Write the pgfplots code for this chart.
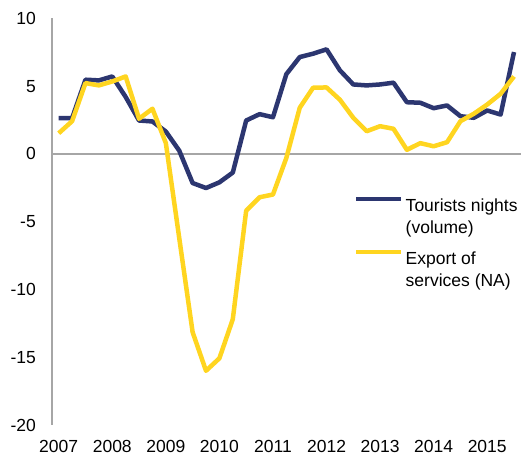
\documentclass[border=0pt]{standalone}
\usepackage{fontspec}
\setmainfont{Liberation Sans}
\usepackage{pgfplots}
\pgfplotsset{compat=1.18}
\definecolor{navyc}{RGB}{44,54,112}
\definecolor{yellowc}{RGB}{255,213,32}
\definecolor{axgray}{RGB}{166,166,166}
\begin{document}
\begin{tikzpicture}[x=1pt,y=1pt,font=\fontsize{17.5}{22}\selectfont]
\useasboundingbox (0,0) rectangle (524,457);
\begin{axis}[
  at={(52pt,32pt)}, anchor=south west,
  scale only axis, width=468.7pt, height=406.7pt,
  xmin=-0.5, xmax=34.5, ymin=-20, ymax=10,
  axis lines*=left,
  x axis line style={draw=none},
  y axis line style={draw=axgray, line width=1.3pt},
  major tick length=0pt,
  xtick={0,4,...,32},
  xticklabels={2007,2008,2009,2010,2011,2012,2013,2014,2015},
  ytick={-20,-15,...,10},
  extra y ticks={0}, extra y tick labels={},
  extra y tick style={grid=major, major grid style={draw=axgray, line width=1.5pt}},
  /pgf/number format/assume math mode=true,
  tick label style={font=\fontsize{17.5}{22}\selectfont},
  xticklabel style={inner sep=0pt, yshift=-15pt},
  yticklabel style={inner sep=0pt, xshift=-16pt},
  legend cell align=left,
  legend style={at={(0.6444,0.5623)}, anchor=north west, draw=none, fill=none,
    inner sep=0pt, nodes={inner sep=0pt}, column sep=2pt, row sep=36pt,
    font=\fontsize{17.5}{22}\selectfont},
  legend image code/.code={\draw[#1] (0pt,6pt) -- (45pt,6pt);},
]
\addplot[navyc, line width=4.5pt, line join=round, mark=none] coordinates {
(0,2.63) (1,2.63) (2,5.47) (3,5.42) (4,5.71) (5,4.2) (6,2.46) (7,2.39)
(8,1.65) (9,0.24) (10,-2.15) (11,-2.52) (12,-2.1) (13,-1.38) (14,2.46) (15,2.93)
(16,2.7) (17,5.88) (18,7.14) (19,7.39) (20,7.71) (21,6.16) (22,5.12) (23,5.05)
(24,5.12) (25,5.25) (26,3.81) (27,3.77) (28,3.37) (29,3.57) (30,2.78) (31,2.66)
(32,3.2) (33,2.9) (34,7.51)
};
\addlegendentry{\begin{tabular}[t]{@{}l@{}}Tourists nights\\(volume)\end{tabular}}
\addplot[yellowc, line width=4.5pt, line join=round, mark=none] coordinates {
(0,1.52) (1,2.41) (2,5.22) (3,5.05) (4,5.34) (5,5.71) (6,2.59) (7,3.33)
(8,0.8) (9,-6.2) (10,-13.15) (11,-16.0) (12,-15.08) (13,-12.2) (14,-4.19) (15,-3.2)
(16,-3.0) (17,-0.3) (18,3.4) (19,4.88) (20,4.9) (21,3.99) (22,2.66) (23,1.67)
(24,2.04) (25,1.85) (26,0.3) (27,0.79) (28,0.56) (29,0.86) (30,2.41) (31,2.96)
(32,3.64) (33,4.43) (34,5.71)
};
\addlegendentry{\begin{tabular}[t]{@{}l@{}}Export of\\services (NA)\end{tabular}}
\end{axis}
\end{tikzpicture}
\end{document}
